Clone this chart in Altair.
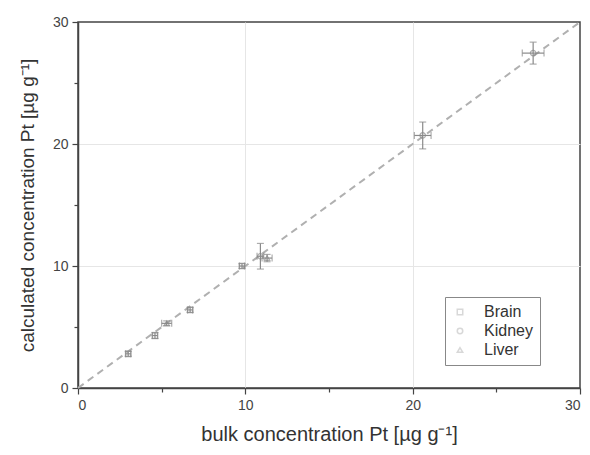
import altair as alt
import pandas as pd

tissue = ["Brain", "Brain", "Liver", "Brain", "Brain", "Kidney", "Liver", "Kidney", "Kidney"]
bulk = [3.0, 4.6, 5.3, 6.7, 9.8, 10.9, 11.3, 20.6, 27.2]
calc = [2.8, 4.3, 5.3, 6.4, 10.0, 10.8, 10.65, 20.7, 27.45]
xerr = [0.15, 0.15, 0.3, 0.15, 0.15, 0.2, 0.3, 0.5, 0.65]
yerr = [0.2, 0.25, 0.2, 0.2, 0.2, 1.05, 0.3, 1.1, 0.9]

line_x = [0, 30]

df = pd.DataFrame({"tissue": tissue, "bulk": bulk, "calc": calc, "xerr": xerr, "yerr": yerr})
ldf = pd.DataFrame({"x": line_x, "y": line_x})

FONT = "Liberation Sans"
GRAY = "#8a8a8a"
XT = "bulk concentration Pt [µg g⁻¹]"
YT = "calculated concentration Pt [µg g⁻¹]"

xscale = alt.Scale(domain=[0, 30], nice=False, zero=False)
yscale = alt.Scale(domain=[0, 30], nice=False, zero=False)

major = "datum.value % 10 === 0"
def axis(title, tpad, tsize):
    return alt.Axis(
        title=title,
        values=[0, 5, 10, 15, 20, 25, 30],
        labelExpr=f"{major} ? datum.label : ''",
        tickSize=alt.ExprRef(expr=f"{major} ? 6 : 4"),
        gridOpacity=alt.ExprRef(expr="(datum.value === 10 || datum.value === 20) ? 1 : 0"),
        gridColor="#e6e6e6",
        domainColor="#444",
        tickColor="#444",
        domainWidth=1.5,
        tickWidth=1.2,
        labelFont=FONT, labelFontSize=14, labelColor="#444",
        titleFont=FONT, titleFontSize=tsize, titleColor="#333", titleFontWeight="normal",
        labelPadding=4, titlePadding=tpad,
    )

X = lambda f: alt.X(f, scale=xscale, title=XT)
Y = lambda f: alt.Y(f, scale=yscale, title=YT)

line = alt.Chart(ldf).mark_line(color="#b0b0b0", strokeDash=[7, 5], strokeWidth=2).encode(
    x=alt.X("x:Q", scale=xscale, axis=axis(XT, 12, 20)),
    y=alt.Y("y:Q", scale=yscale, axis=axis(YT, 15, 19)),
)

xeb = alt.Chart(df).mark_errorbar(ticks=alt.MarkConfig(size=7), color=GRAY, thickness=1.2).encode(
    x=X("bulk:Q"),
    xError="xerr:Q",
    y=Y("calc:Q"),
)

yeb = alt.Chart(df).mark_errorbar(ticks=alt.MarkConfig(size=7), color=GRAY, thickness=1.2).encode(
    y=Y("calc:Q"),
    yError="yerr:Q",
    x=X("bulk:Q"),
)

pts = alt.Chart(df).mark_point(filled=False, color=GRAY, size=30, strokeWidth=1.2).encode(
    x=X("bulk:Q"),
    y=Y("calc:Q"),
    shape=alt.Shape("tissue:N",
                    scale=alt.Scale(domain=["Brain", "Kidney", "Liver"],
                                    range=["square", "circle", "triangle-up"]),
                    legend=alt.Legend(
                        title=None, orient="none", legendX=367, legendY=275,
                        strokeColor="#888", padding=7, fillColor="white",
                        labelFont=FONT, labelFontSize=16, labelColor="#333",
                        symbolFillColor="#c8c8c8", symbolStrokeColor="#c8c8c8",
                        symbolSize=30, rowPadding=3, labelOffset=16,
                        cornerRadius=0, offset=0,
                    )),
)

chart = alt.layer(line, xeb, yeb, pts).properties(
    width=502, height=366,
    autosize=alt.AutoSizeParams(type="none"),
    padding={"left": 70, "top": 14, "right": 2, "bottom": 58},
    background="white",
).configure_view(stroke="#444", strokeWidth=1.5)

chart.save("out.html", embed_options={"renderer": "svg", "actions": False})
